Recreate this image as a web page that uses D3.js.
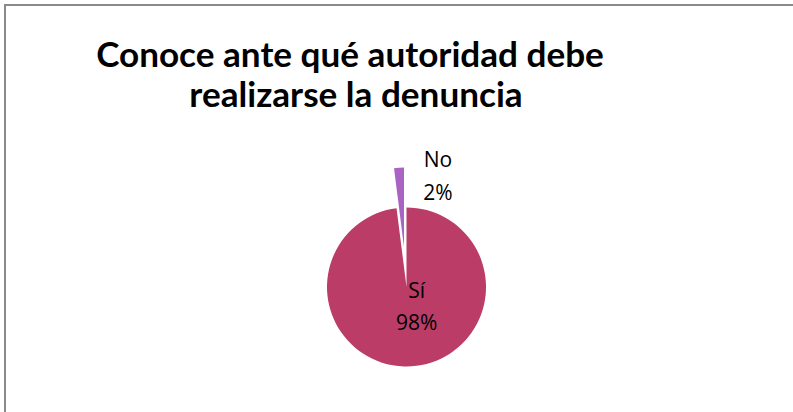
<!DOCTYPE html>
<html><head><meta charset="utf-8">
<script src="https://cdn.jsdelivr.net/npm/d3@7"></script>
<style>html,body{margin:0;padding:0;background:#fff;}svg{display:block;}</style>
</head><body>
<svg id="chart" width="793" height="412"></svg>
<script>
const titleLines = ["Conoce ante qué autoridad debe", "realizarse la denuncia"];
const categories = ["Sí", "No"];
const values = [98, 2];
const percentLabels = ["98%", "2%"];
const colors = ["#BA3C67", "#A963C3"];
const exploded = [false, true];

const svg = d3.select("#chart");
const W = 793, H = 412;

svg.append("rect").attr("x", 0).attr("y", 0).attr("width", W).attr("height", H).attr("fill", "#fff");
svg.append("rect").attr("x", 5).attr("y", 5).attr("width", W + 10).attr("height", H + 10)
  .attr("fill", "none").attr("stroke", "#8a8a8a").attr("stroke-width", 2);

// Title
const titleX = [350, 356], titleY = [67, 107];
const targetW = 508;
const t = svg.append("g").attr("font-family", "Lato, 'Open Sans', sans-serif").attr("font-weight", "bold").attr("fill", "#000");
const l1 = t.append("text").attr("x", titleX[0]).attr("y", titleY[0]).attr("text-anchor", "middle").attr("font-size", 32).text(titleLines[0]);
const w1 = l1.node().getComputedTextLength();
const fs = 32 * targetW / w1;
l1.attr("font-size", fs);
t.append("text").attr("x", titleX[1]).attr("y", titleY[1]).attr("text-anchor", "middle").attr("font-size", fs).text(titleLines[1]);

// Pie
const cx = 406.5, cy = 287, R = 79.5, explode = 40;
const pie = d3.pie().sort(null).value(d => d.v);
const data = pie(categories.map((c, i) => ({c, v: values[i], p: percentLabels[i], col: colors[i], ex: exploded[i]})));
const arc = d3.arc().innerRadius(0).outerRadius(R);
const g = svg.append("g").attr("transform", `translate(${cx},${cy})`);

function offset(d, dist) {
  const a = (d.startAngle + d.endAngle) / 2;
  return [Math.sin(a) * dist, -Math.cos(a) * dist];
}

g.selectAll("path").data(data).join("path")
  .attr("d", arc)
  .attr("fill", d => d.data.col)
  .attr("transform", d => { const o = offset(d, d.data.ex ? explode : 0); return `translate(${o[0]},${o[1]})`; });

// Labels
const labelPos = [
  {dist: 12, dx: 9.5, dy: 0},
  {dist: 119, dx: 39, dy: 0}
];
const lab = g.append("g").attr("font-family", "'Open Sans', 'Noto Sans', sans-serif").attr("font-size", 21).attr("fill", "#000").attr("text-anchor", "middle");
data.forEach((d, i) => {
  const o = offset(d, labelPos[i].dist);
  const x = o[0] + labelPos[i].dx, y = o[1] + labelPos[i].dy;
  const tx = lab.append("text").attr("x", x).attr("y", y);
  tx.append("tspan").attr("x", x).attr("dy", "-0.05em").text(d.data.c);
  tx.append("tspan").attr("x", x).attr("dy", "1.55em").text(d.data.p);
});
</script>
</body></html>
